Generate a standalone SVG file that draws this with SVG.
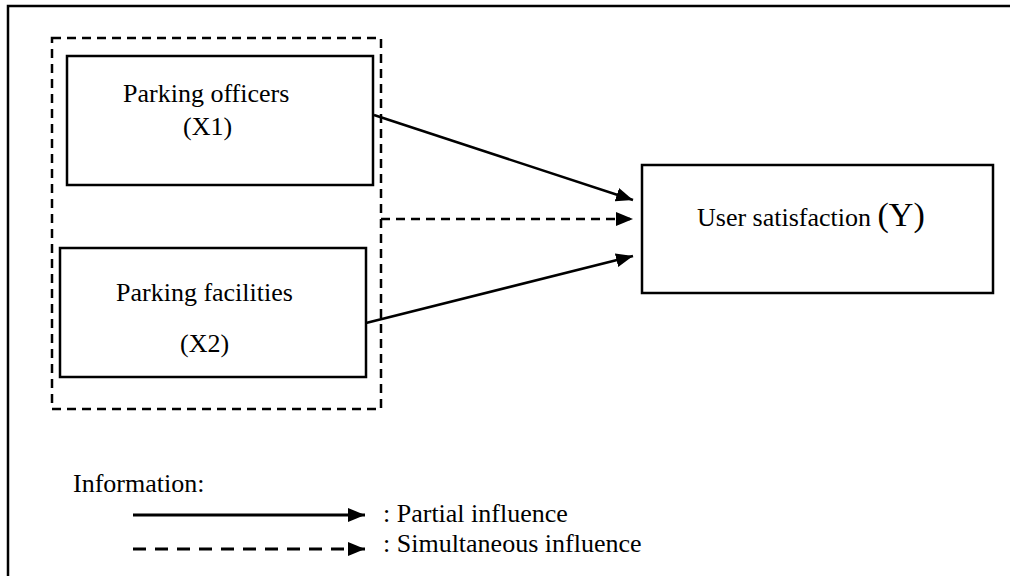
<svg xmlns="http://www.w3.org/2000/svg" width="1010" height="576" viewBox="0 0 1010 576">
<style>
.box{fill:#fff;stroke:#000;stroke-width:2.5}
.t{font-family:"Liberation Serif","Times New Roman",serif;font-size:26px;fill:#000}
.ln{fill:none;stroke:#000;stroke-width:2.5}
.dash{fill:none;stroke:#000;stroke-width:2.5;stroke-dasharray:9 6}
</style>
<defs>
<marker id="ah" markerUnits="userSpaceOnUse" markerWidth="18" markerHeight="14" refX="17" refY="7" orient="auto">
<path d="M0,0 L17,7 L0,14 Z" fill="#000"/>
</marker>
</defs>
<rect x="0" y="0" width="1010" height="576" fill="#fff"/>
<rect x="8" y="6" width="1010" height="600" fill="none" stroke="#000" stroke-width="2.5"/>
<rect id="group-box" x="52" y="38" width="329" height="371" class="dash"/>
<g id="x1">
<rect x="67" y="56" width="306" height="129" class="box"/>
<text x="123" y="102" class="t">Parking officers</text>
<text x="183" y="135" class="t">(X1)</text>
</g>
<g id="x2">
<rect x="60" y="248" width="306" height="129" class="box"/>
<text x="116" y="301" class="t">Parking facilities</text>
<text x="180" y="352" class="t">(X2)</text>
</g>
<g id="y">
<rect x="642" y="165" width="351" height="128" class="box"/>
<text x="697" y="226" class="t">User satisfaction <tspan font-size="34px">(Y)</tspan></text>
</g>
<g id="connectors">
<line x1="374" y1="115" x2="633" y2="200" class="ln" marker-end="url(#ah)"/>
<line x1="381" y1="219" x2="633" y2="219" class="dash" marker-end="url(#ah)"/>
<line x1="366" y1="323" x2="633" y2="256" class="ln" marker-end="url(#ah)"/>
</g>
<g id="legend">
<text x="73" y="492" class="t">Information:</text>
<line x1="133" y1="515" x2="365" y2="515" stroke="#000" stroke-width="3" marker-end="url(#ah)"/>
<line x1="133" y1="549" x2="365" y2="549" stroke="#000" stroke-width="3" stroke-dasharray="13 9" marker-end="url(#ah)"/>
<text x="383" y="522" class="t">: Partial influence</text>
<text x="383" y="552" class="t">: Simultaneous influence</text>
</g>
</svg>
